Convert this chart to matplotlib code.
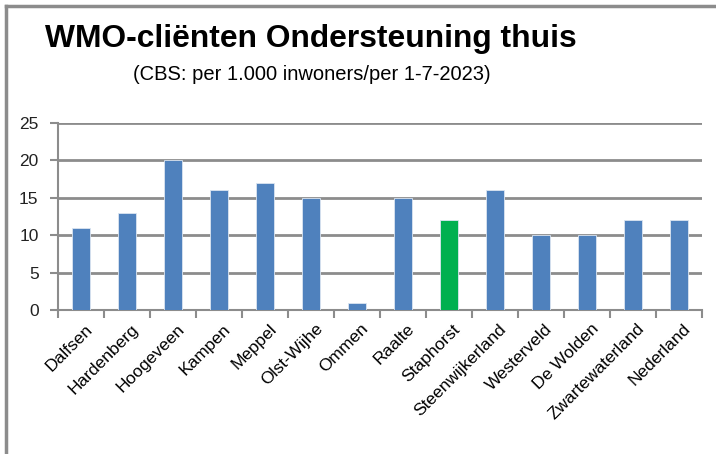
import numpy as np
import matplotlib.pyplot as plt
from matplotlib.lines import Line2D

gemeenten = ['Dalfsen', 'Hardenberg', 'Hoogeveen', 'Kampen', 'Meppel', 'Olst-Wijhe',
             'Ommen', 'Raalte', 'Staphorst', 'Steenwijkerland', 'Westerveld',
             'De Wolden', 'Zwartewaterland', 'Nederland']
clienten = [11, 13, 20, 16, 17, 15, 1, 15, 12, 16, 10, 10, 12, 12]
highlight = 'Staphorst'

blue = '#4F81BD'
green = '#00B050'
grey = '#8C8C8C'

plt.rcParams['font.family'] = ['Liberation Sans', 'DejaVu Sans']

fig = plt.figure(figsize=(7.16, 4.54), dpi=100)
ax = fig.add_axes([58/716, 1 - 310/454, (702-58)/716, (310-123)/454])

x = np.arange(len(gemeenten))
colors = [green if g == highlight else blue for g in gemeenten]
ax.bar(x, clienten, width=0.39, color=colors, edgecolor='#dbe5f1', linewidth=0.6, zorder=3)

ax.set_xlim(-0.5, len(gemeenten) - 0.5)
ax.set_ylim(0, 25)
ax.set_yticks(range(0, 26, 5))
ax.yaxis.grid(True, color=grey, linewidth=2, zorder=0)
ax.set_axisbelow(True)
for s in ['top', 'right']:
    ax.spines[s].set_visible(False)
for s in ['left', 'bottom']:
    ax.spines[s].set_color(grey)
    ax.spines[s].set_linewidth(1.5)
ax.tick_params(axis='y', length=6, width=1.5, color=grey, labelsize=12.5, pad=8,
               labelcolor='#222222')

# category boundary ticks
ax.set_xticks(np.arange(-0.5, len(gemeenten)))
ax.set_xticklabels([])
ax.tick_params(axis='x', length=6, width=1.5, color=grey)
for i, g in enumerate(gemeenten):
    ax.text(i + 0.08, -1.5, g, rotation=45, ha='right', va='top',
            rotation_mode='anchor', fontsize=12.5)

fig.text(45/716, 1 - 47/454, 'WMO-cliënten Ondersteuning thuis', fontsize=22.9,
         fontweight='bold', ha='left', va='baseline')
fig.text(133/716, 1 - 80/454, '(CBS: per 1.000 inwoners/per 1-7-2023)', fontsize=14.5,
         ha='left', va='baseline')

# outer frame (left and top)
fig.add_artist(Line2D([6/716, 6/716], [0, 1 - 6/454], color=grey, linewidth=2.5,
                      transform=fig.transFigure))
fig.add_artist(Line2D([6/716, 1], [1 - 6/454, 1 - 6/454], color=grey, linewidth=2.5,
                      transform=fig.transFigure))

fig.savefig('out.png', dpi=100)
